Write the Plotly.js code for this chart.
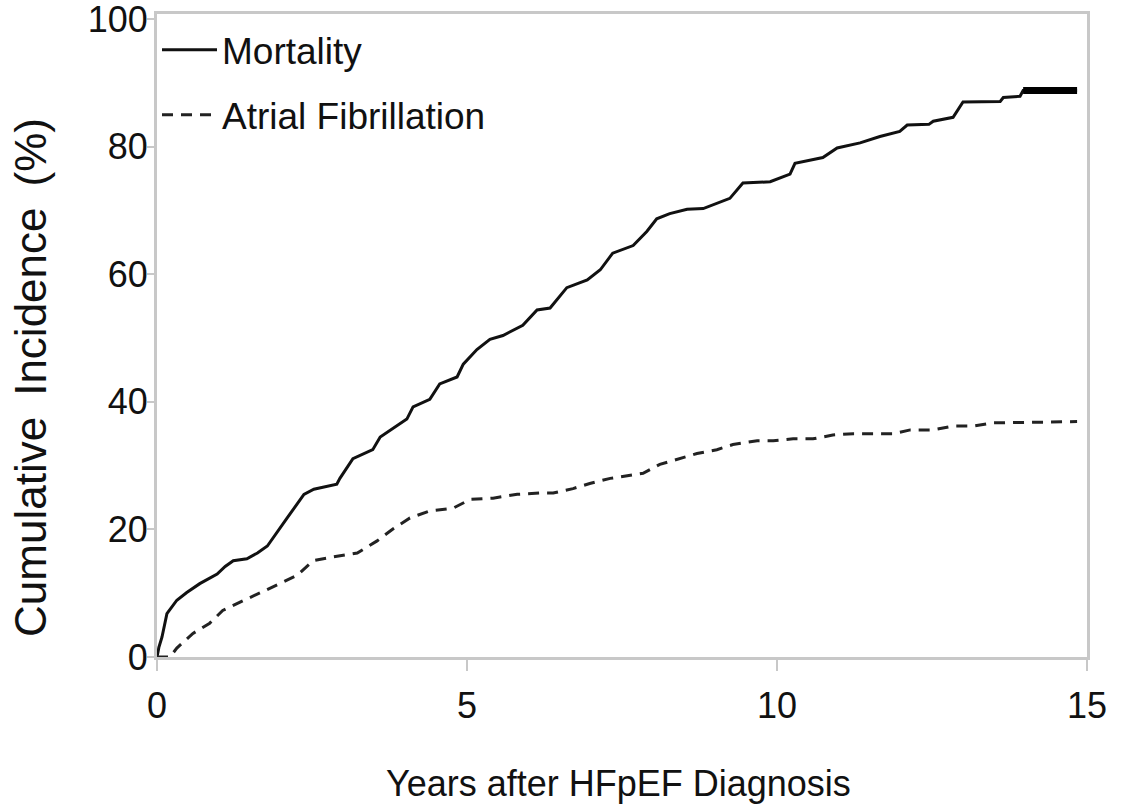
<!DOCTYPE html>
<html>
<head>
<meta charset="utf-8">
<script src="https://cdn.plot.ly/plotly-3.0.1.min.js"></script>
<style>
html,body{margin:0;padding:0;background:#fff;}
#chart{width:1121px;height:812px;}
</style>
</head>
<body>
<div id="chart"></div>
<script>
// Mortality cumulative incidence (years, %)
const mortalityYears = [0, 0.03, 0.08, 0.16, 0.32, 0.48, 0.69, 0.97, 1.1, 1.23, 1.45, 1.62, 1.78, 1.95, 2.1, 2.37, 2.53, 2.9, 2.95, 3.16, 3.48, 3.6, 4.03, 4.13, 4.4, 4.56, 4.84, 4.94, 5.16, 5.37, 5.58, 5.9, 6.13, 6.34, 6.61, 6.94, 7.15, 7.35, 7.68, 7.9, 8.06, 8.27, 8.55, 8.81, 9.24, 9.45, 9.89, 10.21, 10.29, 10.74, 10.97, 11.34, 11.66, 11.98, 12.1, 12.45, 12.52, 12.84, 13.0, 13.6, 13.65, 13.92, 13.97, 14.84];
const mortalityPct = [0, 1.5, 3.1, 6.8, 8.9, 10.1, 11.5, 13.0, 14.2, 15.1, 15.4, 16.3, 17.4, 19.8, 21.8, 25.5, 26.3, 27.1, 28.0, 31.1, 32.5, 34.5, 37.3, 39.2, 40.4, 42.8, 43.9, 45.9, 48.2, 49.8, 50.4, 52.0, 54.4, 54.7, 57.9, 59.1, 60.7, 63.3, 64.5, 66.7, 68.7, 69.5, 70.2, 70.3, 71.9, 74.3, 74.5, 75.7, 77.4, 78.3, 79.8, 80.6, 81.6, 82.4, 83.4, 83.5, 84.0, 84.6, 87.0, 87.1, 87.7, 87.9, 88.8, 88.8];

// Atrial fibrillation cumulative incidence (years, %)
const afYears = [0, 0.21, 0.32, 0.58, 0.85, 1.06, 1.34, 1.66, 1.98, 2.26, 2.52, 2.84, 3.23, 3.55, 3.81, 4.08, 4.4, 4.77, 5.05, 5.42, 5.81, 6.18, 6.39, 6.71, 6.98, 7.31, 7.84, 8.11, 8.44, 8.71, 9.03, 9.29, 9.68, 9.94, 10.26, 10.58, 10.9, 11.23, 11.87, 12.15, 12.52, 12.84, 13.16, 13.48, 14.84];
const afPct = [0, 0, 1.4, 3.7, 5.3, 7.3, 8.6, 10.0, 11.5, 12.8, 15.1, 15.7, 16.3, 18.2, 20.1, 21.8, 22.9, 23.3, 24.7, 24.9, 25.5, 25.7, 25.7, 26.4, 27.2, 28.0, 28.8, 30.2, 31.1, 31.9, 32.5, 33.3, 33.9, 33.9, 34.2, 34.2, 34.8, 35.0, 35.0, 35.6, 35.6, 36.2, 36.2, 36.7, 36.9];

const xTicks = [0, 5, 10, 15];
const yTicks = [0, 20, 40, 60, 80, 100];
const seriesNames = ['Mortality', 'Atrial Fibrillation'];
const xTitle = 'Years after HFpEF Diagnosis';
const yTitle = 'Cumulative\u00a0\u2009Incidence\u00a0\u2009(%)';

const FONT = '"Liberation Sans", Arial, sans-serif';

const traces = [
  {
    x: mortalityYears, y: mortalityPct, name: seriesNames[0], legendgroup: 'm',
    type: 'scatter', mode: 'lines',
    line: {color: '#111111', width: 3}
  },
  {
    // thick flat tail of the mortality curve
    x: mortalityYears.slice(-2), y: mortalityPct.slice(-2), legendgroup: 'm',
    type: 'scatter', mode: 'lines', showlegend: false,
    line: {color: '#000000', width: 7}
  },
  {
    x: afYears, y: afPct, name: seriesNames[1], legendgroup: 'a',
    type: 'scatter', mode: 'lines',
    line: {color: '#222222', width: 3, dash: '11px,8px'}
  }
];

const axisCommon = {
  showgrid: false, zeroline: false,
  showline: true, linecolor: '#c8c8c8', linewidth: 3, mirror: true,
  ticks: 'outside', tickcolor: '#c8c8c8', tickwidth: 2,
  ticklabeloverflow: 'allow'
};

const layout = {
  width: 1121, height: 812,
  margin: {l: 157, r: 34, t: 14, b: 155},
  paper_bgcolor: '#fff', plot_bgcolor: '#fff',
  showlegend: true,
  legend: {
    x: 0, y: 0.992, xanchor: 'left', yanchor: 'top',
    bgcolor: 'rgba(0,0,0,0)', borderwidth: 0,
    font: {family: FONT, size: 37, color: '#111'},
    tracegroupgap: 14, itemwidth: 55
  },
  xaxis: Object.assign({}, axisCommon, {
    range: [0, 15], tickvals: xTicks, ticktext: xTicks.map(String),
    ticklen: 11, ticklabelstandoff: 4,
    tickfont: {family: FONT, size: 36, color: '#111'}
  }),
  yaxis: Object.assign({}, axisCommon, {
    range: [0, 100.8], tickvals: yTicks, ticktext: yTicks.map(String),
    ticklen: 7, ticklabelstandoff: -8,
    tickfont: {family: FONT, size: 36, color: '#111'}
  }),
  annotations: [
    {
      text: xTitle, xref: 'paper', yref: 'paper', x: 0.4957, y: -0.162,
      xanchor: 'center', yanchor: 'top', showarrow: false,
      font: {family: FONT, size: 36, color: '#111'}
    },
    {
      text: yTitle, xref: 'paper', yref: 'paper', x: -0.1355, y: 0.4355,
      xanchor: 'center', yanchor: 'middle', showarrow: false, textangle: -90,
      font: {family: FONT, size: 44, color: '#111'}
    }
  ]
};

Plotly.newPlot('chart', traces, layout, {displayModeBar: false, staticPlot: true});
</script>
</body>
</html>
